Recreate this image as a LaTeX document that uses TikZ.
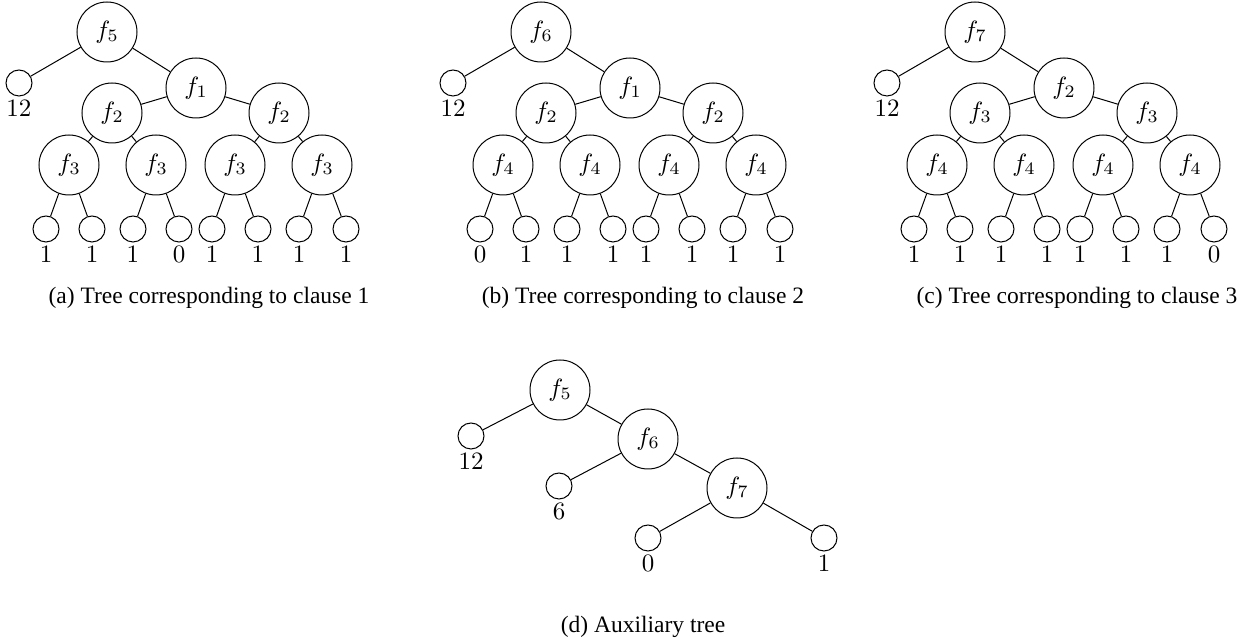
\documentclass[tikz,border=0pt]{standalone}
\usepackage{fontspec}
\newfontfamily\capfont{Liberation Serif}
\tikzset{
  fn/.style={circle,draw,minimum size=24pt,inner sep=0pt},
  leaf/.style={circle,draw,minimum size=10.4pt,inner sep=0pt},
  val/.style={inner sep=1.5pt},
  subcap/.style={font=\capfont\fontsize{9.4}{11}\selectfont}
}
% #1 name prefix, #2 horizontal offset, #3-#6 function indices per level,
% #7 the eight leaf values, #8 caption
\newcommand\cltree[8]{%
\begin{scope}[shift={(#2,0)}]
  \node[fn] (#1r) at (107,32) {$f_{#3}$};
  \node[leaf,label={[val]below:$12$}] (#1z) at (19,83) {};
  \node[fn] (#1m) at (196,88) {$f_{#4}$};
  \node[fn] (#1b1) at (112,113) {$f_{#5}$};
  \node[fn] (#1b2) at (279,113) {$f_{#5}$};
  \draw (#1r) -- (#1z);
  \draw (#1r) -- (#1m);
  \draw (#1m) -- (#1b1);
  \draw (#1m) -- (#1b2);
  \foreach \cx/\pp [count=\j] in {69/1,156/1,235/2,322/2} {
    \node[fn] (#1c\j) at (\cx,165) {$f_{#6}$};
    \draw (#1b\pp) -- (#1c\j);
  }
  \foreach \lx/\pp [count=\k] in {46/1,92/1,133/2,179/2,212/3,258/3,299/4,346/4} {
    \pgfmathtruncatemacro\lab{{#7}[\k-1]}
    \node[leaf,label={[val]below:$\lab$}] (#1l\k) at (\lx,229) {};
    \draw (#1c\pp) -- (#1l\k);
  }
  \node[subcap] (#1cap) at (209,298) {#8};
\end{scope}}
\begin{document}
\begin{tikzpicture}[x=0.4pt,y=-0.4pt]
  \useasboundingbox (0,0) rectangle (1249,638);
  \cltree{a}{0}{5}{1}{2}{3}{1,1,1,0,1,1,1,1}{(a) Tree corresponding to clause 1}
  \cltree{b}{434}{6}{1}{2}{4}{0,1,1,1,1,1,1,1}{(b) Tree corresponding to clause 2}
  \cltree{c}{868}{7}{2}{3}{4}{1,1,1,1,1,1,1,0}{(c) Tree corresponding to clause 3}
  % auxiliary tree
  \node[fn] (dr) at (560,390) {$f_5$};
  \node[leaf,label={[val]below:$12$}] (dz) at (471,436) {};
  \node[fn] (dm) at (648,439) {$f_6$};
  \node[leaf,label={[val]below:$6$}] (dy) at (559,486) {};
  \node[fn] (dn) at (737,488) {$f_7$};
  \node[leaf,label={[val]below:$0$}] (dx) at (648,538) {};
  \node[leaf,label={[val]below:$1$}] (dw) at (824,538) {};
  \draw (dr) -- (dz);
  \draw (dr) -- (dm);
  \draw (dm) -- (dy);
  \draw (dm) -- (dn);
  \draw (dn) -- (dx);
  \draw (dn) -- (dw);
  \node[subcap] (dcap) at (643,627) {(d) Auxiliary tree};
\end{tikzpicture}
\end{document}
